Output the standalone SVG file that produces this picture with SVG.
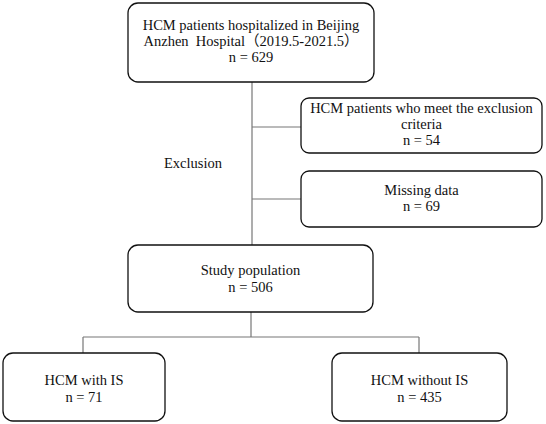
<svg xmlns="http://www.w3.org/2000/svg" width="546" height="424" viewBox="0 0 546 424">
<style>
.box{fill:#fff;stroke:#111;stroke-width:1.3}
.ln{fill:none;stroke:#777;stroke-width:1.2}
text{font-family:"Liberation Serif","Noto Sans CJK SC",serif;font-size:14.5px;fill:#111;text-anchor:middle}
</style>
<rect width="546" height="424" fill="#fff"/>
<g id="connectors">
<path class="ln" d="M252 82V245M252 127H301M252 199H301M251 312V337M83 337H419M83 337V353M419 337V353"/>
</g>
<g id="exclusion-label"><text x="193" y="168">Exclusion</text></g>
<g id="n-top">
<rect class="box" x="128" y="3" width="246" height="79" rx="10"/>
<text x="251" y="30">HCM patients hospitalized in Beijing</text>
<text x="251" y="46" xml:space="preserve">Anzhen  Hospital（2019.5-2021.5）</text>
<text x="251" y="62">n = 629</text>
</g>
<g id="n-excl1">
<rect class="box" x="301" y="98" width="241" height="55" rx="8"/>
<text x="421.5" y="113">HCM patients who meet the exclusion</text>
<text x="421.5" y="129">criteria</text>
<text x="421.5" y="145">n = 54</text>
</g>
<g id="n-excl2">
<rect class="box" x="301" y="171" width="241" height="56" rx="8"/>
<text x="421.5" y="195">Missing data</text>
<text x="421.5" y="211">n = 69</text>
</g>
<g id="n-study">
<rect class="box" x="128" y="245" width="245" height="67" rx="10"/>
<text x="250.5" y="275">Study population</text>
<text x="250.5" y="292">n = 506</text>
</g>
<g id="n-with">
<rect class="box" x="3" y="353" width="162" height="68" rx="10"/>
<text x="84" y="385">HCM with IS</text>
<text x="84" y="402">n = 71</text>
</g>
<g id="n-without">
<rect class="box" x="332" y="353" width="175" height="68" rx="10"/>
<text x="419.5" y="385">HCM without IS</text>
<text x="419.5" y="402">n = 435</text>
</g>
</svg>
